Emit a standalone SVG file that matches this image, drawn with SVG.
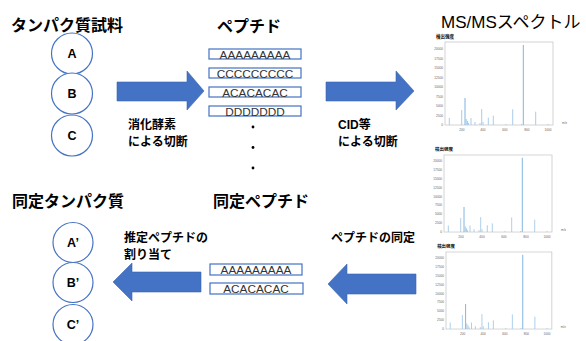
<svg xmlns="http://www.w3.org/2000/svg" xmlns:xlink="http://www.w3.org/1999/xlink" width="586" height="341" viewBox="0 0 586 341">
<style>
.t{font-family:"Liberation Sans","Noto Sans CJK JP",sans-serif;fill:#000}
.h{font-size:16px;font-weight:bold}
.l{font-size:12px;font-weight:bold}
.c{fill:#fff;stroke:#4472C4;stroke-width:1.2}
.cl{font-family:"Liberation Sans",sans-serif;font-size:12.5px;font-weight:bold;text-anchor:middle}
.pb{fill:#fff;stroke:#4472C4;stroke-width:1.2}
.pt{font-family:"Liberation Sans",sans-serif;font-size:11.8px;fill:#333;text-anchor:middle}
.arr{fill:#4472C4;stroke:#3b64ad;stroke-width:0.6}
.tk{font-family:"Liberation Sans",sans-serif;font-size:3.2px;fill:#666}
</style>
<defs>
<g id="spec">
<rect x="0" y="0" width="108" height="83" fill="#fff" stroke="#c8c8c8" stroke-width="0.8"/>
<text class="t" x="-9" y="-4" font-size="4.5" font-weight="bold">検出強度</text>
<g class="tk" text-anchor="end">
<text x="-2" y="84">0</text>
<text x="-2" y="74.5">2500</text>
<text x="-2" y="65">5000</text>
<text x="-2" y="55.5">7500</text>
<text x="-2" y="46">10000</text>
<text x="-2" y="36.5">12500</text>
<text x="-2" y="27">15000</text>
<text x="-2" y="17.5">17500</text>
<text x="-2" y="8">20000</text>
</g>
<g class="tk" text-anchor="middle">
<text x="17" y="89">200</text>
<text x="38" y="89">400</text>
<text x="60" y="89">600</text>
<text x="82" y="89">800</text>
<text x="103" y="89">1000</text>
</g>
<text class="tk" x="117" y="82" font-size="4">m/z</text>
<path d="M4.3 83V76M16.7 83V68M21.3 83V77M22.5 83V79M23.5 83V81M26 83V76M30 83V80M35 83V81M36.7 83V67M38 83V80M43.3 83V75.7M48.3 83V73.7M61 83V82M67.7 83V67.3M76.5 83V82M90.7 83V69.7M103 83V82" stroke="#a9cdeb" stroke-width="1" fill="none"/>
<path d="M20 83V56M78.3 83V3" stroke="#7fb3e0" stroke-width="1" fill="none"/>
</g>
</defs>
<rect width="586" height="341" fill="#fff"/>
<g id="connectors">
<polygon class="arr" points="117,82 187,82 187,71 204,91 187,110 187,101 117,101"/>
<polygon class="arr" points="326,82 396,82 396,71 414,91 396,110 396,101 326,101"/>
<polygon class="arr" points="416,274 347,274 347,264 328,284 347,304 347,294 416,294"/>
<polygon class="arr" points="201,272 132,272 132,263 113,282 132,301 132,292 201,292"/>
</g>
<g id="labels">
<text class="t h" x="11" y="31">タンパク質試料</text>
<text class="t h" x="217" y="32">ペプチド</text>
<text class="t" x="441" y="28" font-size="17">MS/MSスペクトル</text>
<text class="t h" x="12" y="207">同定タンパク質</text>
<text class="t h" x="213" y="207">同定ペプチド</text>
<text class="t l" x="128" y="129">消化酵素</text>
<text class="t l" x="128" y="146">による切断</text>
<text class="t l" x="338" y="129">CID等</text>
<text class="t l" x="338" y="146">による切断</text>
<text class="t l" x="331" y="242">ペプチドの同定</text>
<text class="t l" x="124" y="242">推定ペプチドの</text>
<text class="t l" x="124" y="259">割り当て</text>
</g>
<g id="proteinA"><circle class="c" cx="72" cy="53.5" r="20.5"/><text class="cl" x="72" y="57.5">A</text></g>
<g id="proteinB"><circle class="c" cx="72" cy="93.5" r="20.5"/><text class="cl" x="72" y="97.5">B</text></g>
<g id="proteinC"><circle class="c" cx="72" cy="135.5" r="20.5"/><text class="cl" x="72" y="139.5">C</text></g>
<g id="peptideA"><rect class="pb" x="209" y="49" width="92" height="10"/><text class="pt" x="255" y="58.5">AAAAAAAAA</text></g>
<g id="peptideC"><rect class="pb" x="209" y="68" width="92" height="10"/><text class="pt" x="255" y="77.5">CCCCCCCCC</text></g>
<g id="peptideAC"><rect class="pb" x="209" y="87" width="92" height="10"/><text class="pt" x="255" y="96.5">ACACACAC</text></g>
<g id="peptideD"><rect class="pb" x="209" y="106" width="92" height="10"/><text class="pt" x="255" y="115.5">DDDDDDD</text></g>
<g id="dots" fill="#000"><circle cx="253" cy="127" r="1.4"/><circle cx="253" cy="147.5" r="1.4"/><circle cx="253" cy="168" r="1.4"/></g>
<g id="spectrum1"><use xlink:href="#spec" href="#spec" transform="translate(445,42)"/></g>
<g id="spectrum2"><use xlink:href="#spec" href="#spec" transform="translate(444,155) scale(1,0.928)"/></g>
<g id="spectrum3"><use xlink:href="#spec" href="#spec" transform="translate(446,252) scale(0.98,0.928)"/></g>
<g id="idPeptideA"><rect class="pb" x="210" y="264" width="92" height="11"/><text class="pt" x="256" y="273.5">AAAAAAAAA</text></g>
<g id="idPeptideAC"><rect class="pb" x="210" y="283" width="93" height="11"/><text class="pt" x="256" y="292.5">ACACACAC</text></g>
<g id="proteinA2"><circle class="c" cx="73" cy="242.5" r="20"/><text class="cl" x="73" y="247">A’</text></g>
<g id="proteinB2"><circle class="c" cx="73" cy="282.5" r="20"/><text class="cl" x="73" y="287">B’</text></g>
<g id="proteinC2"><circle class="c" cx="73" cy="324.5" r="20"/><text class="cl" x="73" y="329">C’</text></g>
</svg>
